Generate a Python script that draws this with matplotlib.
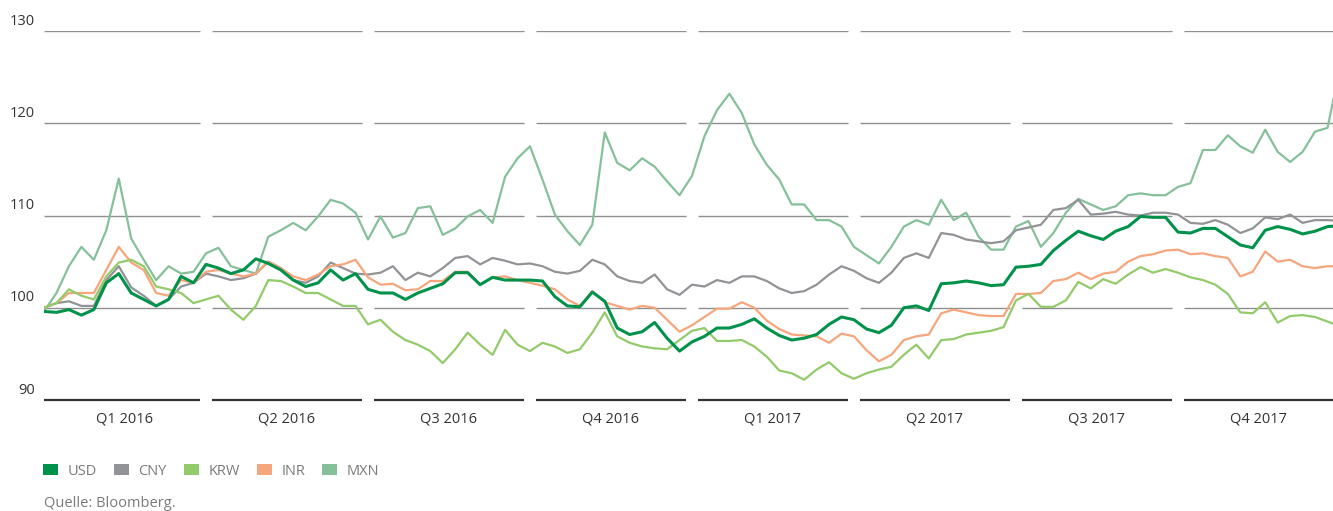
import numpy as np
import matplotlib
matplotlib.use("Agg")
import matplotlib.pyplot as plt
from matplotlib.patches import Patch
from matplotlib.transforms import ScaledTranslation

plt.rcParams['font.family'] = ['Open Sans', 'DejaVu Sans']

# weekly index values (start of 2016 = 100), 13 points per quarter
quarters = ["Q1 2016", "Q2 2016", "Q3 2016", "Q4 2016",
            "Q1 2017", "Q2 2017", "Q3 2017", "Q4 2017"]

usd = [99.6, 99.5, 99.8, 99.2, 99.8, 102.7, 103.7, 101.6, 100.9, 100.2,
       100.9, 103.4, 102.7, 104.7, 104.3, 103.7, 104.1, 105.3, 104.8, 104.1,
       103.0, 102.3, 102.7, 104.1, 103.0, 103.7, 102.0, 101.6, 101.6, 100.9,
       101.6, 102.1, 102.6, 103.8, 103.8, 102.5, 103.3, 103.0, 103.0, 103.0,
       102.9, 101.2, 100.2, 100.1, 101.7, 100.7, 97.8, 97.1, 97.4, 98.4,
       96.7, 95.3, 96.3, 96.9, 97.8, 97.8, 98.2, 98.8, 97.8, 97.0,
       96.5, 96.7, 97.1, 98.2, 99.0, 98.7, 97.7, 97.3, 98.1, 100.0,
       100.2, 99.7, 102.6, 102.7, 102.9, 102.7, 102.4, 102.5, 104.4, 104.5,
       104.7, 106.2, 107.3, 108.3, 107.8, 107.4, 108.3, 108.8, 109.9, 109.8,
       109.8, 108.2, 108.1, 108.6, 108.6, 107.7, 106.8, 106.5, 108.4, 108.8,
       108.5, 108.0, 108.3, 108.8, 108.9]

cny = [100.0, 100.5, 100.7, 100.2, 100.2, 103.0, 104.5, 102.2, 101.3, 100.2,
       100.9, 102.3, 102.7, 103.7, 103.4, 103.0, 103.2, 103.7, 105.0, 104.3,
       103.0, 102.7, 103.4, 104.9, 104.3, 103.7, 103.6, 103.8, 104.5, 103.0,
       103.8, 103.4, 104.3, 105.4, 105.6, 104.7, 105.4, 105.1, 104.7, 104.8,
       104.5, 103.9, 103.7, 104.0, 105.2, 104.7, 103.4, 102.9, 102.7, 103.6,
       102.0, 101.4, 102.5, 102.3, 103.0, 102.7, 103.4, 103.4, 102.9, 102.1,
       101.6, 101.8, 102.5, 103.6, 104.5, 104.0, 103.2, 102.7, 103.8, 105.4,
       105.9, 105.4, 108.1, 107.9, 107.4, 107.2, 107.0, 107.2, 108.4, 108.7,
       109.0, 110.6, 110.8, 111.7, 110.1, 110.2, 110.4, 110.1, 110.0, 110.3,
       110.3, 110.1, 109.2, 109.1, 109.5, 109.0, 108.1, 108.6, 109.8, 109.6,
       110.1, 109.2, 109.5, 109.5, 109.4]

krw = [100.0, 100.5, 102.0, 101.3, 100.9, 103.4, 104.9, 105.2, 104.5, 102.3,
       102.0, 101.6, 100.5, 100.9, 101.3, 99.8, 98.7, 100.2, 103.0, 102.9,
       102.3, 101.6, 101.6, 100.9, 100.2, 100.2, 98.2, 98.7, 97.4, 96.5,
       96.0, 95.3, 94.0, 95.5, 97.3, 96.0, 94.9, 97.6, 96.0, 95.3,
       96.2, 95.8, 95.1, 95.5, 97.3, 99.5, 96.9, 96.2, 95.8, 95.6,
       95.5, 96.5, 97.5, 97.8, 96.4, 96.4, 96.5, 95.8, 94.7, 93.2,
       92.9, 92.2, 93.3, 94.1, 92.9, 92.3, 92.9, 93.3, 93.6, 94.9,
       96.0, 94.5, 96.5, 96.6, 97.1, 97.3, 97.5, 97.9, 100.8, 101.5,
       100.1, 100.1, 100.8, 102.8, 102.1, 103.1, 102.6, 103.6, 104.4, 103.8,
       104.2, 103.8, 103.3, 103.0, 102.5, 101.5, 99.5, 99.4, 100.6, 98.4,
       99.1, 99.2, 99.0, 98.5, 98.0]

inr = [100.0, 100.5, 101.6, 101.6, 101.6, 104.1, 106.6, 104.9, 104.1, 101.6,
       101.3, 103.0, 102.7, 103.9, 104.1, 103.7, 103.4, 103.7, 105.0, 104.3,
       103.4, 103.0, 103.6, 104.5, 104.7, 105.2, 103.3, 102.5, 102.6, 101.9,
       102.0, 102.9, 102.9, 103.9, 103.9, 102.5, 103.3, 103.4, 103.0, 102.7,
       102.4, 102.0, 100.9, 100.2, 101.8, 100.6, 100.2, 99.8, 100.2, 100.0,
       98.7, 97.4, 98.1, 99.0, 99.9, 99.9, 100.6, 100.0, 98.6, 97.7,
       97.1, 97.0, 96.9, 96.2, 97.2, 96.9, 95.4, 94.2, 94.9, 96.5,
       96.9, 97.1, 99.4, 99.8, 99.5, 99.2, 99.1, 99.1, 101.5, 101.5,
       101.6, 102.9, 103.1, 103.8, 103.1, 103.7, 103.9, 105.0, 105.6, 105.8,
       106.2, 106.3, 105.8, 105.9, 105.6, 105.4, 103.4, 103.9, 106.1, 105.0,
       105.2, 104.5, 104.3, 104.5, 104.5]

mxn = [99.6, 101.6, 104.5, 106.6, 105.2, 108.4, 114.0, 107.5, 105.2, 103.0,
       104.5, 103.7, 103.9, 105.9, 106.5, 104.5, 104.1, 103.7, 107.7, 108.4,
       109.2, 108.4, 109.9, 111.7, 111.3, 110.3, 107.4, 109.9, 107.6, 108.1,
       110.8, 111.0, 107.9, 108.6, 109.9, 110.6, 109.2, 114.2, 116.2, 117.5,
       113.9, 110.1, 108.3, 106.8, 109.0, 119.0, 115.7, 114.9, 116.2, 115.3,
       113.7, 112.2, 114.3, 118.6, 121.4, 123.2, 121.1, 117.7, 115.5, 113.9,
       111.2, 111.2, 109.5, 109.5, 108.8, 106.6, 105.7, 104.8, 106.6, 108.8,
       109.5, 109.0, 111.7, 109.5, 110.3, 107.7, 106.3, 106.3, 108.8, 109.4,
       106.6, 108.1, 110.3, 111.8, 111.2, 110.6, 111.0, 112.2, 112.4, 112.2,
       112.2, 113.1, 113.5, 117.1, 117.1, 118.7, 117.5, 116.8, 119.3, 116.9,
       115.8, 116.9, 119.1, 119.5, 126.0]

names = ["USD", "CNY", "KRW", "INR", "MXN"]
colors = {"USD": "#00924a", "CNY": "#929396", "KRW": "#93ca6a",
          "INR": "#f6a57d", "MXN": "#86c09a"}
series = {"USD": usd, "CNY": cny, "KRW": krw, "INR": inr, "MXN": mxn}

W, H = 1333, 511
fig = plt.figure(figsize=(W / 100, H / 100), dpi=100)
# plot area runs a little past the right edge of the figure
ax = fig.add_axes([44 / W, (H - 400) / H, 1296 / W, 369 / H])

x = np.arange(len(usd)) / 13.0

# grid and base line are split into one piece per quarter
gap = 6 / 162
for k in range(len(quarters)):
    x0 = k if k == 0 else k + gap
    x1 = k + 1 - gap
    ax.hlines([100, 110, 120, 130], x0, x1, color="#8f8f8f", lw=1.0, zorder=1)
    ax.hlines(90, x0, x1, color="#333333", lw=1.6, zorder=1, clip_on=False)

for name in ["MXN", "CNY", "INR", "KRW", "USD"]:
    lw = 2.2 if name == "USD" else 1.6
    ax.plot(x, series[name], color=colors[name], lw=lw, zorder=3,
            solid_joinstyle="round")

ax.set_xlim(0, 8)
ax.set_ylim(90, 130)
for s in ax.spines.values():
    s.set_visible(False)

ax.set_xticks(np.arange(len(quarters)) + 0.5)
ax.set_xticklabels(quarters, fontsize=10.5, color="#333333")
ax.set_yticks([90, 100, 110, 120, 130])
ax.set_yticklabels(["90", "100", "110", "120", "130"], fontsize=10.5, color="#333333")
ax.tick_params(axis="both", length=0)
ax.tick_params(axis="x", pad=8)
ax.tick_params(axis="y", pad=6.5)

# y labels sit just above their grid line
shift = ScaledTranslation(0, 0.12, fig.dpi_scale_trans)
for lab in ax.get_yticklabels():
    lab.set_transform(lab.get_transform() + shift)

handles = [Patch(facecolor=colors[n], edgecolor="none", label=n) for n in names]
fig.legend(handles=handles, loc="center left", bbox_to_anchor=(43 / W, (H - 471) / H),
           ncol=5, frameon=False, fontsize=10.5, labelcolor="#7a7a7a",
           handlelength=1.05, handleheight=0.85, handletextpad=0.65,
           columnspacing=1.15, borderpad=0, borderaxespad=0)

fig.text(44 / W, (H - 496) / H, "Quelle: Bloomberg.", fontsize=10.5,
         color="#7a7a7a", va="top", ha="left")

fig.savefig("out.png", dpi=100)
